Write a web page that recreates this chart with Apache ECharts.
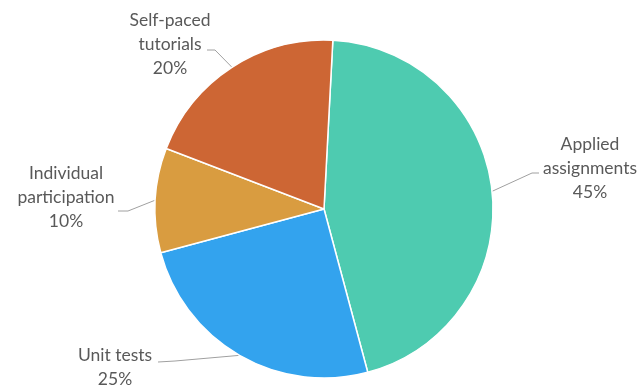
<!DOCTYPE html>
<html>
<head>
<meta charset="utf-8">
<script src="https://cdn.jsdelivr.net/npm/echarts@6/dist/echarts.min.js"></script>
<style>
html,body{margin:0;padding:0;background:#fff;}
#chart{width:642px;height:388px;}
</style>
</head>
<body>
<div id="chart"></div>
<script>
const categories = ["Applied\nassignments", "Unit tests", "Individual\nparticipation", "Self-paced\ntutorials"];
const values = [45, 25, 10, 20];
const colors = ["#4ECBB0", "#33A3EE", "#D99C40", "#CD6634"];

// label placement (text centre, bend point, line end) per slice
const labelSpots = [
  {x: 590, y: 168, bend: [532, 173], end: [539, 173]},
  {x: 115, y: 367, bend: [175, 361], end: [158, 362]},
  {x: 66, y: 197, bend: [128, 211], end: [118, 211]},
  {x: 170, y: 44, bend: [215, 50], end: [207, 50]}
];

const chart = echarts.init(document.getElementById('chart'), null, {renderer: 'canvas'});
chart.setOption({
  animation: false,
  series: [{
    type: 'pie',
    center: [324, 209],
    radius: [0, 169],
    startAngle: 87,
    clockwise: true,
    data: categories.map((c, i) => ({name: c, value: values[i], itemStyle: {color: colors[i]}})),
    itemStyle: {borderColor: '#fff', borderWidth: 1.5},
    label: {
      show: true,
      position: 'outside',
      formatter: p => p.name + '\n' + p.value + '%',
      fontFamily: 'Lato',
      fontSize: 17.5,
      lineHeight: 24,
      color: '#595959',
      align: 'center'
    },
    labelLine: {show: true, length: 10, length2: 10, smooth: false,
      lineStyle: {color: '#a0a0a0', width: 1}},
    labelLayout: function (p) {
      const s = labelSpots[p.dataIndex];
      const pts = p.labelLinePoints;
      return {
        x: s.x, y: s.y, align: 'center', verticalAlign: 'middle',
        labelLinePoints: [pts[0], s.bend, s.end]
      };
    }
  }]
});
</script>
</body>
</html>
